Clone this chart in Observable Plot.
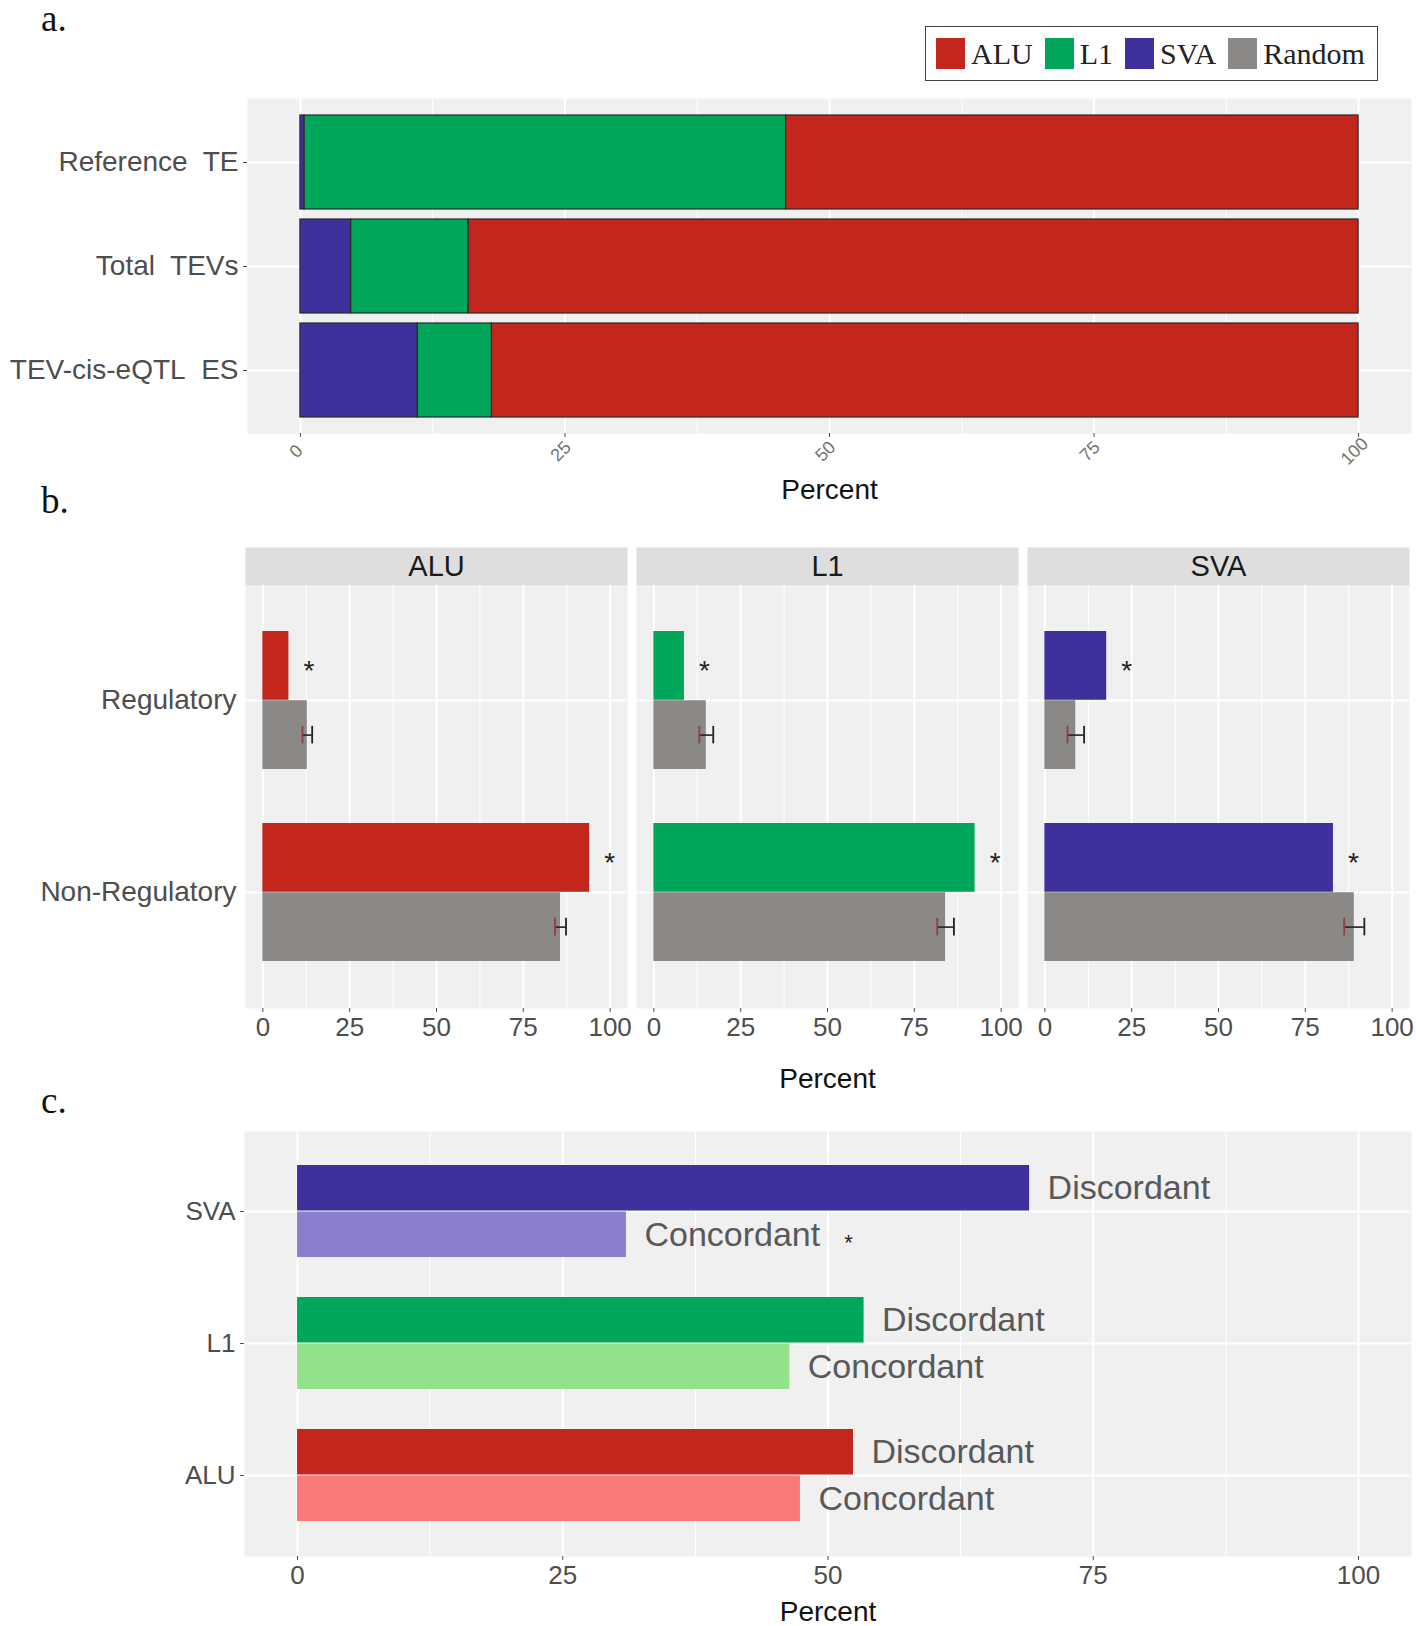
<!DOCTYPE html>
<html><head><meta charset="utf-8">
<script src="https://cdn.jsdelivr.net/npm/d3@7"></script>
<script src="https://cdn.jsdelivr.net/npm/@observablehq/plot@0.6"></script>
<style>
html,body{margin:0;padding:0;background:#fff;}
body{width:1416px;height:1626px;position:relative;overflow:hidden;font-family:"Liberation Sans",Arial,sans-serif;}
.chart{position:absolute;left:0;}
.plabel{position:absolute;left:41px;font-family:"Liberation Serif","Times New Roman",serif;font-size:37px;line-height:1;color:#111;}
#legend{position:absolute;left:925px;top:26px;width:453px;height:55px;box-sizing:border-box;border:1.5px solid #444;background:#fff;display:flex;align-items:center;padding-left:10px;gap:12px;z-index:5;}
#legend .item{display:flex;align-items:center;gap:6px;}
#legend .key{width:29px;height:31px;}
#legend .txt{font-family:"Liberation Serif","Times New Roman",serif;font-size:30px;color:#222;line-height:1;}
</style></head><body>
<script>
// ---------------- data ----------------
const teTypes = ["ALU", "L1", "SVA"];
const legendLabels = ["ALU", "L1", "SVA", "Random"];
const darkColors = ["#C2261D", "#00A75A", "#3F319B", "#8B8888"];
const lightColors = ["#F87B79", "#93E28B", "#8B7ECF"];

// panel a: composition (%)
const setsA = ["Reference\u00A0 TE", "Total\u00A0 TEVs", "TEV-cis-eQTL\u00A0 ES"];
const svaA = [0.4, 4.8, 11.1];
const l1A  = [45.5, 11.1, 7.0];
const aluA = [54.1, 84.1, 81.9];

// panel b: regulatory vs non-regulatory (%)
const regions = ["Regulatory", "Non-Regulatory"];
const aluB = [7.5, 94.1];
const l1B  = [8.8, 92.5];
const svaB = [17.8, 83.1];
const randAluB = [12.8, 85.7];
const randL1B  = [15.1, 84.0];
const randSvaB = [8.9, 89.1];
const errAluB = [1.4, 1.6];
const errL1B  = [2.0, 2.4];
const errSvaB = [2.4, 2.9];
const sigB = [true, true];

// panel c: discordant vs concordant (%)
const typesC = ["SVA", "L1", "ALU"];
const discordantC = [69.0, 53.4, 52.4];
const concordantC = [31.0, 46.4, 47.4];
const sigConcC = [true, false, false];

const ticksMajor = [0, 25, 50, 75, 100];
const ticksMinor = d3.pairs(ticksMajor, (a, b) => (a + b) / 2);

// ---------------- style ----------------
const W = 1416;
const BG = "#F0F0F0";
const STRIP = "#DEDEDE";
const AXIS = "#4D4D4D";
const svgStyle = {fontFamily: '"Liberation Sans", Arial, sans-serif', background: "transparent", overflow: "visible"};
const colorScale = {domain: legendLabels, range: darkColors};
const colorOf = Object.fromEntries(legendLabels.map((k, i) => [k, darkColors[i]]));
const lightOf = Object.fromEntries(teTypes.map((k, i) => [k, lightColors[i]]));

function place(svg, top) {
  const div = document.createElement("div");
  div.className = "chart";
  div.style.top = top + "px";
  div.appendChild(svg);
  document.body.appendChild(div);
}
function label(t, top) {
  const d = document.createElement("div");
  d.className = "plabel"; d.style.top = top + "px"; d.textContent = t;
  document.body.appendChild(d);
}

// ---------------- panel a ----------------
const rowsA = [];
setsA.forEach((s, i) => {
  rowsA.push({set: s, type: "SVA", value: svaA[i]});
  rowsA.push({set: s, type: "L1", value: l1A[i]});
  rowsA.push({set: s, type: "ALU", value: aluA[i]});
});
const A = {h: 500, mt: 98, mb: 67, ml: 247, mr: 5};
const chartA = Plot.plot({
  width: W, height: A.h, marginTop: A.mt, marginBottom: A.mb, marginLeft: A.ml, marginRight: A.mr,
  style: svgStyle,
  x: {domain: [-5, 105]},
  y: {domain: setsA, paddingInner: 0.1, paddingOuter: 0.15},
  color: colorScale,
  marks: [
    Plot.frame({fill: BG, stroke: "none"}),
    Plot.ruleX(ticksMinor, {x: d => d, stroke: "white", strokeWidth: 1}),
    Plot.ruleX(ticksMajor, {x: d => d, stroke: "white", strokeWidth: 2}),
    Plot.ruleY(setsA, {y: d => d, stroke: "white", strokeWidth: 2}),
    Plot.barX(rowsA, Plot.stackX({x: "value", y: "set", fill: "type", order: null, stroke: "#2a2a2a", strokeWidth: 1.2})),
    Plot.axisY({tickSize: 4, tickPadding: 5, fontSize: 28, color: AXIS, label: null}),
    Plot.axisX({ticks: ticksMajor, tickSize: 4, tickFormat: () => "", color: AXIS, label: null}),
    Plot.text(ticksMajor, {x: d => d, text: d => String(d), frameAnchor: "bottom", dy: 22, rotate: -45, fontSize: 18, fill: "#737373"}),
    Plot.text(["Percent"], {text: d => d, frameAnchor: "bottom", lineAnchor: "middle", dy: 57, fontSize: 28, fill: "#111"})
  ]
});
place(chartA, 0);

// legend (HTML)
const leg = document.createElement("div");
leg.id = "legend";
legendLabels.forEach((k, i) => {
  const it = document.createElement("div"); it.className = "item";
  const key = document.createElement("div"); key.className = "key"; key.style.background = darkColors[i];
  const tx = document.createElement("div"); tx.className = "txt"; tx.textContent = k;
  it.appendChild(key); it.appendChild(tx); leg.appendChild(it);
});
document.body.appendChild(leg);

// ---------------- panel b ----------------
const teB = {ALU: aluB, L1: l1B, SVA: svaB};
const randB = {ALU: randAluB, L1: randL1B, SVA: randSvaB};
const errB = {ALU: errAluB, L1: errL1B, SVA: errSvaB};
const teRowsB = [], randRowsB = [];
teTypes.forEach(t => regions.forEach((r, i) => {
  teRowsB.push({family: t, region: r, value: teB[t][i], sig: sigB[i]});
  randRowsB.push({family: t, region: r, kind: "Random", value: randB[t][i], lo: randB[t][i] - errB[t][i], hi: randB[t][i] + errB[t][i]});
}));
const B = {h: 600, mt: 85, mb: 92, ml: 245, mr: 7};
const fhB = B.h - B.mt - B.mb;
const stepB = fhB / (regions.length - 0.28 + 2 * 0.24);
const bwB = stepB * 0.72;
const chartB = Plot.plot({
  width: W, height: B.h, marginTop: B.mt, marginBottom: B.mb, marginLeft: B.ml, marginRight: B.mr,
  style: svgStyle,
  fx: {domain: teTypes, paddingInner: 0.024, paddingOuter: 0, axis: null},
  x: {domain: [-5, 105]},
  y: {domain: regions, paddingInner: 0.28, paddingOuter: 0.24, axis: null},
  color: colorScale,
  marks: [
    Plot.frame({fill: BG, stroke: "none"}),
    Plot.frame({fill: STRIP, stroke: "none", insetTop: -38, insetBottom: fhB}),
    Plot.text(teTypes, {fx: d => d, text: d => d, frameAnchor: "top", lineAnchor: "middle", dy: -19, fontSize: 29, fill: "#1a1a1a"}),
    Plot.ruleX(ticksMinor, {x: d => d, stroke: "white", strokeWidth: 1}),
    Plot.ruleX(ticksMajor, {x: d => d, stroke: "white", strokeWidth: 2}),
    Plot.ruleY(regions, {y: d => d, stroke: "white", strokeWidth: 2}),
    Plot.barX(teRowsB, {fx: "family", y: "region", x: "value", fill: "family", insetBottom: bwB / 2}),
    Plot.barX(randRowsB, {fx: "family", y: "region", x: "value", fill: "kind", insetTop: bwB / 2}),
    Plot.ruleY(randRowsB, {fx: "family", y: "region", x1: "lo", x2: "hi", dy: bwB / 4, stroke: "#222", strokeWidth: 1.6}),
    Plot.tickX(randRowsB, {fx: "family", y: "region", x: "lo", insetTop: 0.75 * bwB - 9, insetBottom: 0.25 * bwB - 9, stroke: "#8A4343", strokeWidth: 1.8}),
    Plot.tickX(randRowsB, {fx: "family", y: "region", x: "hi", insetTop: 0.75 * bwB - 9, insetBottom: 0.25 * bwB - 9, stroke: "#222", strokeWidth: 1.8}),
    Plot.text(teRowsB.filter(d => d.sig), {fx: "family", y: "region", x: "value", text: () => "*", dx: 20, dy: -bwB / 4 + 5, fontSize: 28, fill: "#222"}),
    Plot.text(regions, {fx: () => "ALU", y: d => d, text: d => d, frameAnchor: "left", textAnchor: "end", dx: -9, fontSize: 28, fill: AXIS}),
    Plot.axisX({ticks: ticksMajor, tickSize: 4, tickPadding: 5, fontSize: 26, color: AXIS, label: null}),
    Plot.text(["Percent"], {fx: () => "L1", text: d => d, frameAnchor: "bottom", lineAnchor: "middle", dy: 71, fontSize: 28, fill: "#111"})
  ]
});
place(chartB, 500);

// ---------------- panel c ----------------
const discRows = typesC.map((t, i) => ({type: t, kind: "Discordant", value: discordantC[i], fill: colorOf[t]}));
const concRows = typesC.map((t, i) => ({type: t, kind: "Concordant", value: concordantC[i], fill: lightOf[t], sig: sigConcC[i]}));
const C = {h: 526, mt: 31, mb: 70, ml: 244, mr: 5};
const fhC = C.h - C.mt - C.mb;
const stepC = fhC / (typesC.length - 0.3 + 2 * 0.25);
const bwC = stepC * 0.7;
const chartC = Plot.plot({
  width: W, height: C.h, marginTop: C.mt, marginBottom: C.mb, marginLeft: C.ml, marginRight: C.mr,
  style: svgStyle,
  x: {domain: [-5, 105]},
  y: {domain: typesC, paddingInner: 0.3, paddingOuter: 0.25},
  color: {type: "identity"},
  marks: [
    Plot.frame({fill: BG, stroke: "none"}),
    Plot.ruleX(ticksMinor, {x: d => d, stroke: "white", strokeWidth: 1}),
    Plot.ruleX(ticksMajor, {x: d => d, stroke: "white", strokeWidth: 2}),
    Plot.ruleY(typesC, {y: d => d, stroke: "white", strokeWidth: 2}),
    Plot.barX(discRows, {y: "type", x: "value", fill: "fill", insetBottom: bwC / 2}),
    Plot.barX(concRows, {y: "type", x: "value", fill: "fill", insetTop: bwC / 2}),
    Plot.text(discRows, {y: "type", x: "value", text: "kind", textAnchor: "start", dx: 18, dy: -bwC / 4, fontSize: 34, fill: "#595959"}),
    Plot.text(concRows, {y: "type", x: "value", text: "kind", textAnchor: "start", dx: 18, dy: bwC / 4, fontSize: 34, fill: "#595959"}),
    Plot.text(concRows.filter(d => d.sig), {y: "type", x: "value", text: () => "*", dx: 222, dy: bwC / 4 + 8, fontSize: 22, fill: "#222"}),
    Plot.axisY({tickSize: 4, tickPadding: 5, fontSize: 26, color: AXIS, label: null}),
    Plot.axisX({ticks: ticksMajor, tickSize: 4, tickPadding: 5, fontSize: 26, color: AXIS, label: null}),
    Plot.text(["Percent"], {text: d => d, frameAnchor: "bottom", lineAnchor: "middle", dy: 56, fontSize: 28, fill: "#111"})
  ]
});
place(chartC, 1100);

// panel letters
label("a.", 0);
label("b.", 482);
label("c.", 1082);
</script>
</body></html>
